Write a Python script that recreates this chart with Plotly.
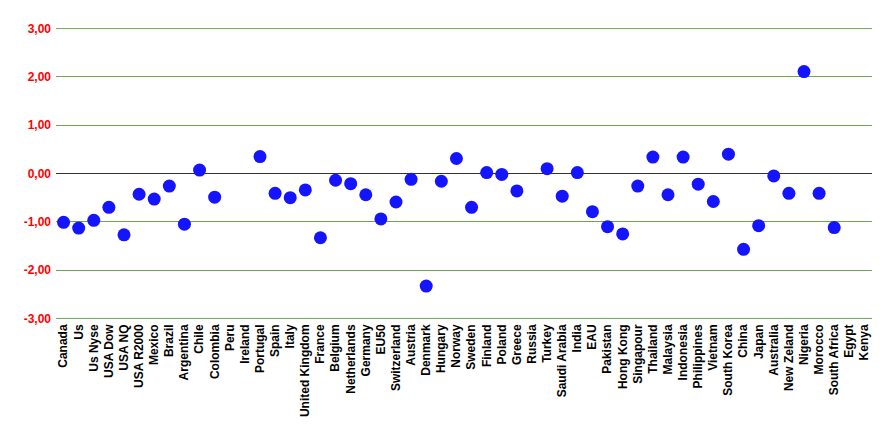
import plotly.graph_objects as go

countries = ["Canada", "Us", "Us Nyse", "USA Dow", "USA NQ", "USA R2000", "Mexico", "Brazil",
             "Argentina", "Chile", "Colombia", "Peru", "Ireland", "Portugal", "Spain", "Italy",
             "United Kingdom", "France", "Belgium", "Netherlands", "Germany", "EU50", "Switzerland",
             "Austria", "Denmark", "Hungary", "Norway", "Sweden", "Finland", "Poland", "Greece",
             "Russia", "Turkey", "Saudi Arabia", "India", "EAU", "Pakistan", "Hong Kong", "Singapour",
             "Thailand", "Malaysia", "Indonesia", "Philippines", "Vietnam", "South Korea", "China",
             "Japan", "Australia", "New Zeland", "Nigeria", "Morocco", "South Africa", "Egypt", "Kenya"]

values = [-1.01, -1.13, -0.97, -0.70, -1.27, -0.43, -0.53, -0.26,
          -1.05, 0.07, -0.49, None, None, 0.35, -0.41, -0.50,
          -0.34, -1.33, -0.14, -0.21, -0.44, -0.94, -0.59,
          -0.12, -2.33, -0.16, 0.31, -0.70, 0.02, -0.02, -0.36,
          None, 0.10, -0.47, 0.02, -0.79, -1.10, -1.25, -0.26,
          0.34, -0.44, 0.34, -0.22, -0.58, 0.40, -1.57,
          -1.08, -0.05, -0.41, 2.11, -0.41, -1.12, None, None]

tick_vals = [-3, -2, -1, 0, 1, 2, 3]
tick_text = ["-3,00", "-2,00", "-1,00", "0,00", "1,00", "2,00", "3,00"]

GRID = "#6aa84f"

fig = go.Figure()
fig.add_trace(go.Scatter(
    x=countries, y=values, mode="markers",
    marker=dict(color="#1414ff", size=13, line=dict(width=0)),
    showlegend=False,
))

# edge gridlines (plotly skips gridlines lying on the plot border)
for v in (tick_vals[0], tick_vals[-1]):
    fig.add_shape(type="line", xref="paper", x0=0, x1=1, yref="y", y0=v, y1=v,
                  line=dict(color=GRID, width=1), layer="below")

fig.update_layout(
    width=893, height=436,
    margin=dict(l=48, r=29, t=20, b=125),
    paper_bgcolor="white", plot_bgcolor="white",
    font=dict(family="Liberation Sans, Arial, sans-serif"),
)
fig.update_xaxes(
    type="category", categoryorder="array", categoryarray=countries,
    tickmode="array", tickvals=countries, ticktext=countries,
    range=[-0.5, len(countries) - 0.5],
    tickangle=-90, ticklabelstandoff=2,
    tickfont=dict(size=12, color="black", family="Liberation Sans, Arial, sans-serif", weight="bold"),
    showgrid=False, showline=False, zeroline=False, ticks="",
)
fig.update_yaxes(
    range=[-3.012, 3.012], tickvals=tick_vals, ticktext=tick_text,
    ticklabelstandoff=4,
    tickfont=dict(size=12, color="red", family="Liberation Sans, Arial, sans-serif", weight="bold"),
    showgrid=True, gridcolor=GRID, gridwidth=1,
    zeroline=True, zerolinecolor="#333333", zerolinewidth=1,
    showline=False, ticks="",
)

fig.write_html("out.html")
